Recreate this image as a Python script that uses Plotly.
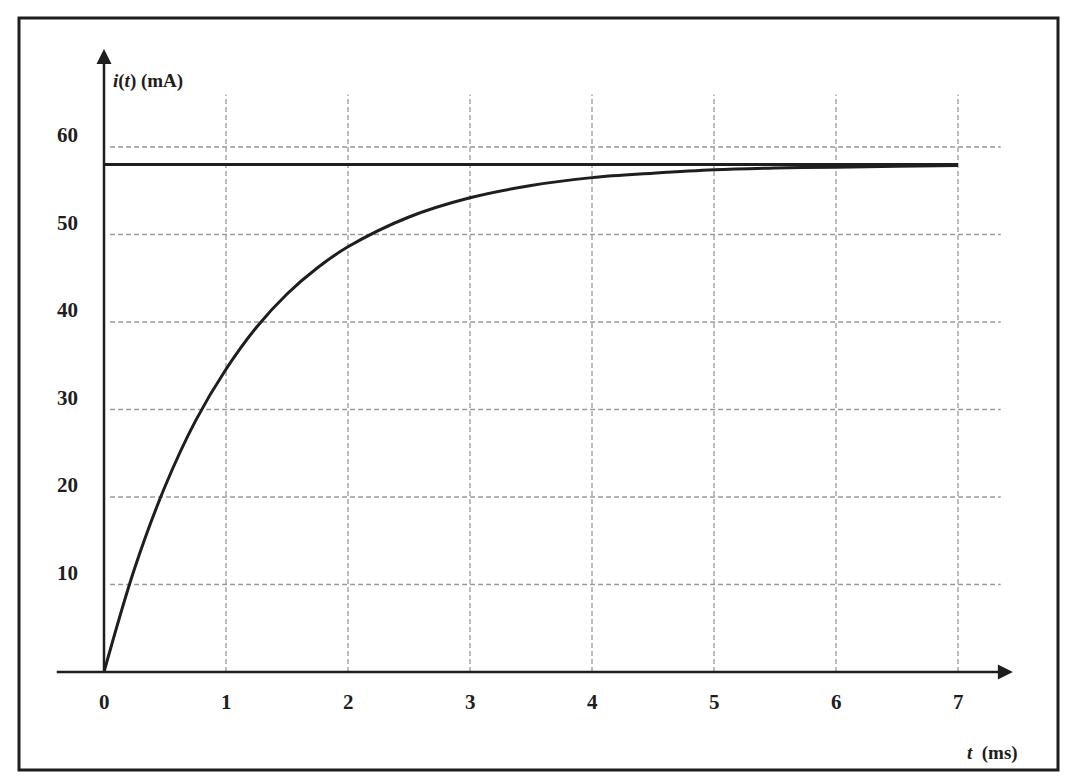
import plotly.graph_objects as go

# ---- data ----
t_ms = [0, 0.25, 0.5, 0.75, 1.0, 1.25, 1.5, 1.75, 2.0, 2.5, 3.0, 3.5, 4.0, 4.5, 5.0, 5.5, 6.0, 6.5, 7.0]
i_mA = [0, 11.8, 21.2, 28.7, 34.6, 39.4, 43.2, 46.2, 48.6, 52.0, 54.2, 55.6, 56.5, 57.0, 57.4, 57.6, 57.7, 57.8, 57.9]
asym_t = [0, 7]
asym_i = [58, 58]
x_ticks = [0, 1, 2, 3, 4, 5, 6, 7]
x_tick_labels = ["0", "1", "2", "3", "4", "5", "6", "7"]
y_ticks = [10, 20, 30, 40, 50, 60]
y_tick_labels = ["10", "20", "30", "40", "50", "60"]
x_label = "<i>t</i>  (ms)"
y_label = "<i>i</i>(<i>t</i>) (mA)"

W, H = 1080, 784
X0PX, XSCALE = 96, 122.0
Y0PX, YSCALE = 664, 8.75
xr = [-X0PX / XSCALE, (W - X0PX) / XSCALE]
yr = [(Y0PX - H) / YSCALE, Y0PX / YSCALE]

INK = "#1e1e1e"
GRID = "#9a9a9a"
FONT = "Liberation Serif"

fig = go.Figure()

# asymptote line
fig.add_trace(go.Scatter(x=asym_t, y=asym_i, mode="lines",
                         line=dict(color=INK, width=3), hoverinfo="skip", showlegend=False))
# response curve
fig.add_trace(go.Scatter(x=t_ms, y=i_mA, mode="lines",
                         line=dict(color=INK, width=3, shape="spline", smoothing=1.0),
                         hoverinfo="skip", showlegend=False))

shapes = []
# vertical dashed grid lines
for tx in x_ticks[1:]:
    shapes.append(dict(type="line", xref="x", yref="y", x0=tx, x1=tx, y0=0, y1=66,
                       line=dict(color=GRID, width=1.3, dash="5px,3px"), layer="below"))
# horizontal dashed grid lines
for ty in y_ticks:
    shapes.append(dict(type="line", xref="x", yref="y", x0=0.05, x1=7.35, y0=ty, y1=ty,
                       line=dict(color=GRID, width=1.3, dash="5px,3px"), layer="below"))
# frame
shapes.append(dict(type="rect", xref="paper", yref="paper",
                   x0=11 / W, x1=1050 / W, y0=1 - 762 / H, y1=1 - 10 / H,
                   line=dict(color=INK, width=3)))

annotations = []
# axes with arrowheads
annotations.append(dict(x=7.45, y=0, ax=-0.4, ay=0, xref="x", yref="y", axref="x", ayref="y",
                        showarrow=True, arrowhead=2, arrowsize=1.2, arrowwidth=2.5,
                        arrowcolor=INK, text=""))
annotations.append(dict(x=0, y=71.2, ax=0, ay=0, xref="x", yref="y", axref="x", ayref="y",
                        showarrow=True, arrowhead=2, arrowsize=1.2, arrowwidth=2.5,
                        arrowcolor=INK, text=""))
# tick labels
for tx, lab in zip(x_ticks, x_tick_labels):
    annotations.append(dict(x=tx, y=0, xref="x", yref="y", text="<b>%s</b>" % lab,
                             showarrow=False, yshift=-30, xanchor="center", yanchor="middle",
                             font=dict(family=FONT, size=21, color=INK)))
for ty, lab in zip(y_ticks, y_tick_labels):
    annotations.append(dict(x=-0.3, y=ty, xref="x", yref="y", text="<b>%s</b>" % lab,
                             showarrow=False, yshift=12, xanchor="center", yanchor="middle",
                             font=dict(family=FONT, size=21, color=INK)))
# axis titles
annotations.append(dict(x=0.06, y=67.6, xref="x", yref="y", text="<b>%s</b>" % y_label,
                        showarrow=False, xanchor="left", yanchor="middle",
                        font=dict(family=FONT, size=19, color=INK)))
annotations.append(dict(x=7.28, y=-9.3, xref="x", yref="y", text="<b>%s</b>" % x_label,
                        showarrow=False, xanchor="center", yanchor="middle",
                        font=dict(family=FONT, size=19, color=INK)))

fig.update_layout(
    width=W, height=H,
    margin=dict(l=0, r=0, t=0, b=0),
    paper_bgcolor="white", plot_bgcolor="white",
    xaxis=dict(range=xr, visible=False, fixedrange=True),
    yaxis=dict(range=yr, visible=False, fixedrange=True),
    shapes=shapes, annotations=annotations, showlegend=False,
)

fig.write_html("out.html")
